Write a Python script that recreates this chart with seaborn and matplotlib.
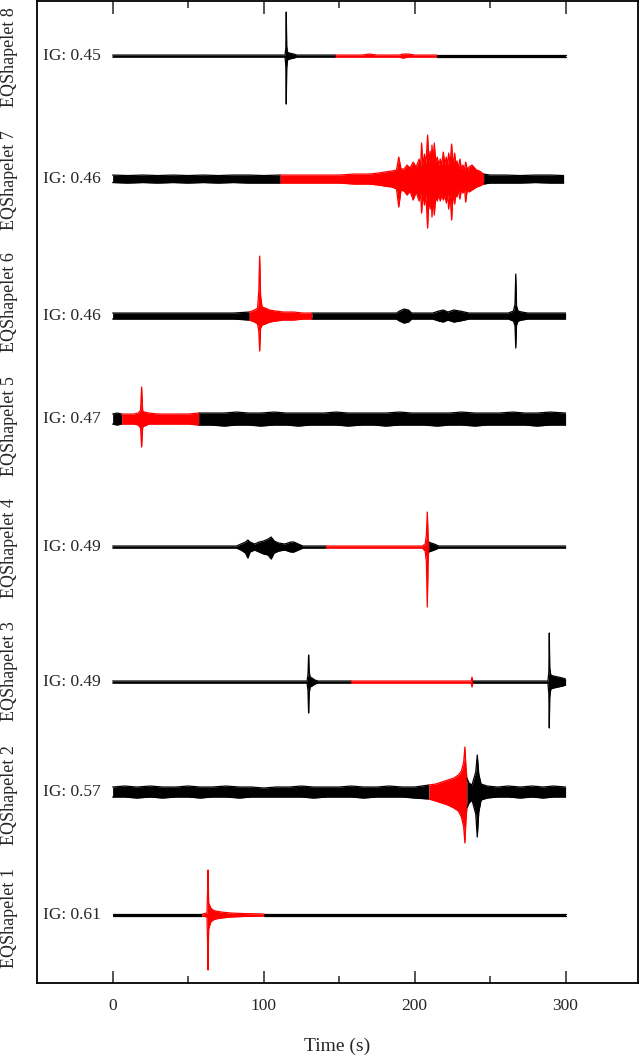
import numpy as np
import pandas as pd
import matplotlib
matplotlib.use('Agg')
import matplotlib.pyplot as plt
import matplotlib.transforms as mtransforms
from matplotlib.ticker import FixedLocator
import seaborn as sns

# information gain shown for each shapelet (shapelet 1 .. 8)
ig_values = [0.61, 0.57, 0.49, 0.49, 0.47, 0.46, 0.46, 0.45]
shapelet_names = ['EQShapelet %d' % i for i in range(1, 9)]

# red (shapelet) window of each trace, seconds
red_start = [59.5, 209.5, 158.0, 141.4, 6.0, 90.5, 111.0, 147.7]
red_end = [100.3, 234.6, 238.5, 209.3, 57.0, 132.0, 245.7, 214.6]

# envelopes: time (s), upper and lower amplitude
t1 = [0, 59.5, 62.5, 63.0, 63.2, 63.4, 63.6, 64.2, 65, 66.5, 68, 72, 78, 86, 100.3, 160, 300]
up1 = [1, 1, 2, 30, 45, 30, 12, 10, 7, 5, 4, 3, 2, 1.5, 1, 1, 1]
lo1 = [1, 1, 2, 35, 55, 35, 14, 11, 7, 5, 4, 3, 2, 1.5, 1, 1, 1]

t2 = [0, 8, 16, 25, 33, 42, 50, 58, 66, 75, 84, 92, 100, 108, 117, 125, 133, 142, 150, 158,
      166, 175, 183, 192, 200, 209.5, 214, 218, 222, 226, 229, 231, 232.5, 233.3, 234, 234.6,
      236, 238, 240.5, 241.5, 242.5, 244, 248, 255, 262, 270, 278, 285, 292, 300]
up2 = [5, 6, 5, 6, 5, 5, 6, 5, 5, 6, 5, 5, 4, 5, 5, 6, 5, 5, 5, 6,
       5, 5, 6, 5, 5, 7, 8, 10, 12, 14, 17, 21, 30, 45, 25, 14,
       9, 7, 20, 37, 18, 8, 6, 5, 6, 5, 6, 5, 6, 5]
lo2 = [5, 5, 6, 5, 6, 5, 5, 6, 5, 5, 6, 5, 5, 5, 5, 5, 6, 5, 5, 5,
       6, 5, 5, 5, 6, 7, 9, 11, 13, 16, 19, 25, 35, 51, 28, 16,
       11, 8, 22, 45, 20, 8, 6, 5, 5, 6, 5, 6, 5, 5]

t3 = [0, 128.8, 129.4, 129.8, 130.2, 130.8, 132, 134, 136, 158, 237.5, 238, 238.5, 240,
      288.3, 288.9, 289.2, 289.5, 290.2, 292, 295, 298, 300]
up3 = [1, 1, 8, 27, 10, 5, 4, 2, 1, 1, 1, 5, 1, 1, 1, 10, 49, 14, 7, 6, 5, 4, 3]
lo3 = [1, 1, 9, 31, 11, 5, 4, 2, 1, 1, 1, 5, 1, 1, 1, 12, 46, 15, 7, 6, 5, 4, 3]

t4 = [0, 82, 85, 88, 89.6, 91, 94, 97, 100, 103, 105, 107, 110, 114, 118, 120, 123, 126,
      141.4, 205, 207, 207.8, 208.4, 209, 209.3, 211, 213, 216, 300]
up4 = [1, 1, 3, 5, 7, 5, 3, 5, 6, 8, 10, 6, 4, 3, 5, 5, 3, 1,
       1, 1, 3, 12, 35, 8, 5, 4, 3, 1, 1]
lo4 = [1, 1, 3, 6, 11, 5, 3, 5, 7, 8, 12, 6, 4, 3, 5, 5, 3, 1,
       1, 1, 4, 15, 60, 10, 5, 4, 3, 1, 1]

t5 = [0, 3, 6, 10, 14, 17, 18.5, 19.2, 19.9, 21, 24, 30, 37, 44, 50, 57, 65, 74, 82, 90,
      98, 107, 115, 123, 131, 140, 148, 156, 165, 173, 181, 190, 198, 206, 215, 223, 231,
      240, 248, 256, 265, 273, 281, 290, 300]
up5 = [5, 6, 5, 5, 5, 6, 9, 32, 8, 7, 6, 5, 5, 5, 5, 6, 6, 6, 7, 6,
       6, 7, 6, 6, 6, 6, 7, 6, 6, 6, 6, 7, 6, 6, 6, 6, 7,
       6, 6, 6, 7, 6, 6, 7, 6]
lo5 = [5, 6, 5, 5, 5, 6, 9, 28, 8, 7, 5, 5, 5, 5, 5, 6, 6, 7, 6, 6,
       7, 6, 6, 7, 6, 6, 6, 7, 6, 6, 7, 6, 6, 6, 7, 6, 6,
       7, 6, 6, 6, 6, 7, 6, 6]

t6 = [0, 10, 20, 30, 40, 50, 60, 70, 80, 90.5, 94, 96, 96.8, 97.4, 98, 99, 101, 104, 108,
      113, 120, 126, 132, 140, 150, 160, 170, 180, 188, 190, 193, 196, 198, 205, 212, 216,
      219, 222, 226, 230, 233, 236, 245, 255, 262, 265.5, 266.5, 267, 267.5, 268.5, 271,
      275, 280, 290, 300]
up6 = [3, 3, 3, 3, 3, 3, 3, 3, 3, 4, 6, 8, 25, 60, 20, 9, 8, 6, 5,
       4, 4, 3, 3, 3, 3, 3, 3, 3, 3, 5, 7, 6, 3, 3, 3, 5,
       6, 4, 6, 5, 4, 3, 3, 3, 3, 5, 12, 42, 10, 5, 4,
       3, 3, 3, 3]
lo6 = [3, 3, 3, 3, 3, 3, 3, 3, 3, 4, 6, 8, 15, 35, 12, 9, 8, 6, 5,
       4, 4, 3, 3, 3, 3, 3, 3, 3, 3, 5, 7, 6, 3, 3, 3, 5,
       6, 4, 6, 5, 4, 3, 3, 3, 3, 5, 10, 32, 9, 5, 4,
       3, 3, 3, 3]

t7 = [0, 10, 20, 30, 40, 50, 60, 70, 80, 90, 100, 111, 120, 130, 140, 150, 160, 170, 176,
      180, 185, 188, 189.5, 191, 193, 195, 197, 199, 201, 203, 204, 204.6, 205.5, 206.5,
      207.5, 208.6, 209.5, 210.3, 211, 211.5, 212.2, 213, 214, 215, 216, 217, 218, 219, 220,
      221, 222, 222.5, 223.5, 224.5, 225.5, 226.5, 227.5, 228, 229, 230, 231, 232, 233,
      233.8, 235, 236, 238, 241, 243, 245.7, 250, 260, 270, 280, 290, 298.7]
up7 = [4, 3.5, 4, 3.5, 4, 3.5, 4, 3.5, 4, 4, 3.5, 4, 4, 4, 4, 4, 5, 5, 6,
       7, 8, 9, 22, 10, 10, 14, 11, 17, 12, 20, 13, 36, 14, 25,
       15, 44, 16, 28, 16, 34, 17, 36, 17, 22, 14, 20, 14, 27, 15,
       22, 14, 26, 15, 35, 13, 26, 12, 18, 11, 20, 10, 14, 9,
       17, 9, 12, 14, 9, 8, 5, 4, 4, 3.5, 4, 4, 3.5]
lo7 = [3.5, 4, 3.5, 4, 3.5, 4, 3.5, 4, 3.5, 4, 4, 4, 4, 4, 4, 4, 5, 5, 6,
       7, 8, 10, 28, 11, 12, 16, 12, 21, 13, 22, 14, 34, 15, 26,
       16, 49, 17, 30, 17, 38, 18, 36, 18, 22, 15, 22, 15, 21, 16,
       24, 15, 30, 15, 41, 13, 25, 12, 18, 11, 20, 10, 14, 9,
       23, 9, 13, 11, 8, 7, 5, 4, 4, 4, 3.5, 4, 4]

t8 = [0, 114.2, 114.7, 115, 115.3, 115.8, 117, 120, 122, 147.7, 165, 170, 175, 190, 192,
      196, 200, 214.6, 300]
up8 = [1, 1, 8, 44, 10, 4, 3, 2, 1, 1, 1, 2, 1, 1, 2, 2, 1, 1, 1]
lo8 = [1, 1, 10, 48, 12, 4, 3, 2, 1, 1, 1, 1, 1, 1, 2, 1, 1, 1, 1]

times = [t1, t2, t3, t4, t5, t6, t7, t8]
uppers = [up1, up2, up3, up4, up5, up6, up7, up8]
lowers = [lo1, lo2, lo3, lo4, lo5, lo6, lo7, lo8]

# layout: trace baselines and label centres (axis units, 1 unit ~ 1 px)
baselines = [68, 191, 301, 436, 564, 667, 804, 927]
label_y = [65, 188, 312, 435, 557, 681, 803, 926]

sns.set_style('ticks')
plt.rcParams['font.family'] = 'serif'
plt.rcParams['font.serif'] = ['Liberation Serif', 'DejaVu Serif']

fig = plt.figure(figsize=(6.4, 10.61), dpi=100)
ax = fig.add_axes([0.058, 0.0735, 0.939, 0.9255])

rows = []
for i in range(8):
    t = np.array(times[i], dtype=float)
    up = np.array(uppers[i], dtype=float)
    lo = np.array(lowers[i], dtype=float)
    off = baselines[i]
    segs = [(t <= red_start[i], 'black'),
            ((t >= red_start[i]) & (t <= red_end[i]), 'red'),
            (t >= red_end[i], 'black')]
    for k, (m, c) in enumerate(segs):
        if m.sum() < 2:
            continue
        ax.fill_between(t[m], off - lo[m], off + up[m], color=c, lw=0, zorder=2)
        for edge, vals in (('u', off + up[m]), ('l', off - lo[m])):
            for tt, vv in zip(t[m], vals):
                rows.append({'time': tt, 'value': vv, 'line': '%d_%d_%s' % (i, k, edge), 'color': c})

df = pd.DataFrame(rows)
sns.lineplot(data=df, x='time', y='value', units='line', estimator=None, hue='color',
             palette={'black': 'black', 'red': 'red'}, sort=False, legend=False,
             lw=0.9, ax=ax, zorder=3)

for i in range(8):
    ax.text(-8, baselines[i], 'IG: %.2f' % ig_values[i], ha='right', va='center', fontsize=12.5)

trans = mtransforms.blended_transform_factory(ax.transAxes, ax.transData)
for i in range(8):
    ax.text(-0.0466, label_y[i], shapelet_names[i], rotation=90, ha='center', va='center',
            fontsize=13, transform=trans, clip_on=False)

ax.set_xlim(-50, 348)
ax.set_ylim(0, 982)
ax.set_xticks([0, 100, 200, 300])
ax.set_xticklabels(['0', '100', '200', '300'], fontsize=12.5)
ax.xaxis.set_minor_locator(FixedLocator([50, 150, 250]))
ax.set_yticks([])
ax.tick_params(axis='x', which='major', direction='in', length=9, width=1.1, top=True, pad=11)
ax.tick_params(axis='x', which='minor', direction='in', length=5, width=1.1, top=True)
for s in ax.spines.values():
    s.set_linewidth(1.3)
    s.set_color('black')
ax.set_xlabel('Time (s)', fontsize=14, labelpad=17)
ax.set_ylabel('')

plt.savefig('out.png', dpi=100)
